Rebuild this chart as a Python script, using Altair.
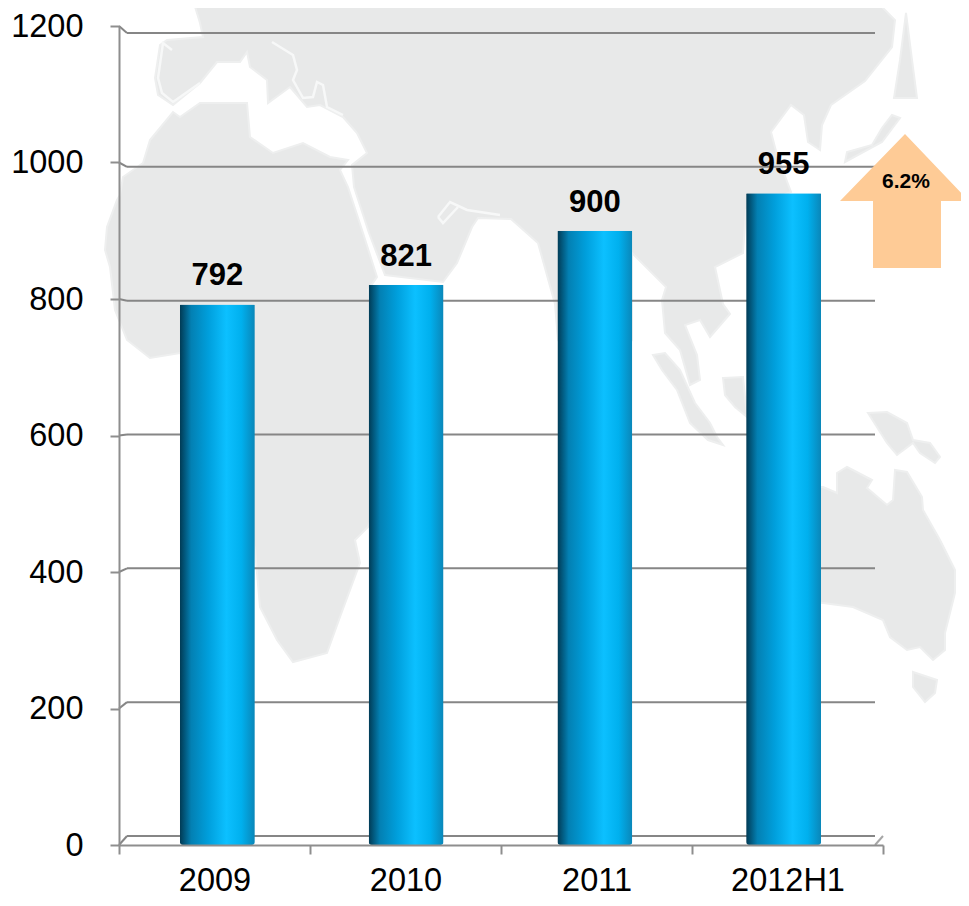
import altair as alt
import pandas as pd

FONT = "Liberation Sans"
GREY = "#8e8e8e"

categories = ["2009", "2010", "2011", "2012H1"]
values = [792, 821, 900, 955]
y_ticks = [0, 200, 400, 600, 800, 1000, 1200]
growth_label = "6.2%"

# Background map and arrow outlines (page pixels)
eurasia = [(193,0),(200,23),(203,37),(167,40),(160,45),(155,78),(158,95),(173,105),(200,83),(217,62),(240,62),(247,52),(250,67),(267,80),(268,103),(290,87),(307,107),(320,105),(343,117),(357,133),(367,153),(352,165),(354,187),(369,233),(385,275),(443,282),(457,263),(472,227),(478,218),(511,219),(538,243),(555,304),(558,340),(595,400),(632,340),(632,253),(666,287),(662,300),(665,333),(680,350),(690,385),(700,380),(697,355),(685,325),(700,320),(710,337),(730,314),(723,304),(715,267),(743,253),(746,210),(791,192),(777,155),(771,132),(791,105),(804,115),(808,142),(820,150),(822,125),(831,105),(865,81),(892,47),(895,20),(875,0)]
africa = [(180,117),(200,103),(247,103),(250,137),(273,153),(303,143),(330,157),(348,160),(340,170),(348,187),(363,233),(377,277),(368,290),(385,400),(385,480),(368,527),(355,540),(360,563),(340,617),(327,653),(293,662),(277,640),(260,607),(255,550),(245,500),(230,375),(180,353),(150,358),(127,340),(115,310),(110,267),(105,250),(107,227),(117,200),(120,195),(123,177),(143,163),(150,140),(173,112)]
sakhalin = [(906,13),(912,60),(917,98),(894,98),(900,60)]
japan = [(892,115),(900,118),(882,142),(845,162),(847,152),(872,145),(882,128)]
sumatra = [(653,355),(665,353),(680,370),(695,403),(710,423),(717,437),(723,445),(708,440),(690,423),(677,390),(662,370)]
borneo = [(723,378),(743,377),(747,417),(735,407),(725,395)]
new_guinea = [(868,413),(887,412),(907,423),(913,440),(930,443),(940,457),(935,463),(920,453),(913,443),(897,455),(887,443)]
australia = [(823,487),(837,493),(837,473),(847,467),(872,480),(867,488),(887,505),(893,500),(895,470),(907,472),(922,497),(923,510),(940,540),(955,570),(955,593),(945,633),(945,650),(933,660),(920,647),(907,650),(890,637),(883,620),(853,607),(823,603),(800,600),(800,487)]
tasmania = [(913,672),(937,680),(935,693),(925,702),(913,687)]
arrow = [(905,134),(969,201),(941,201),(941,268),(873,268),(873,201),(840,201)]

white_lines = [
    [(272,42),(293,55),(297,70),(293,80),(303,98),(313,97),(317,82),(323,85),(327,107),(343,115)],
    [(438,217),(450,202),(467,210),(500,215)],
    [(438,217),(443,223),(458,207)],
    [(172,50),(163,43),(158,78),(162,93),(173,102),(200,83)],
]


def feature(points):
    return {"type": "Feature",
            "geometry": {"type": "Polygon",
                         "coordinates": [[list(p) for p in points] + [list(points[0])]]}}


def line_feature(points):
    return {"type": "Feature",
            "geometry": {"type": "LineString", "coordinates": [list(p) for p in points]}}


projection = dict(type="identity", scale=1, translate=[-119, -26])
map_shapes = [eurasia, africa, sakhalin, japan, sumatra, borneo, new_guinea, australia, tasmania]

map_layer = alt.Chart(alt.Data(values=[feature(s) for s in map_shapes])).mark_geoshape(
    fill="#e8e9e9", stroke="#eeefef", strokeWidth=2, clip=False).project(**projection)
map_lines = alt.Chart(alt.Data(values=[line_feature(s) for s in white_lines])).mark_geoshape(
    fill=None, filled=False, stroke="#f7f8f8", strokeWidth=2.5, clip=False).project(**projection)
arrow_layer = alt.Chart(alt.Data(values=[feature(arrow)])).mark_geoshape(
    fill="#fecb96", stroke=None, clip=False).project(**projection)

df = pd.DataFrame({"cat": categories, "value": values})
ticks = pd.DataFrame({"v": y_ticks})

y_scale = alt.Scale(domain=[0, 1200], range=[819, 0], nice=False)
y_enc = alt.Y("value:Q", scale=y_scale, title=None,
              axis=alt.Axis(values=y_ticks, format="d", grid=False, tickSize=9, tickWidth=2, tickColor=GREY,
                            domainColor=GREY, domainWidth=2, labelFont=FONT, labelFontSize=32.5,
                            labelColor="#000000", labelPadding=27, zindex=1))
x_axis_scale = alt.Scale(domain=categories, range=[0, 764], paddingInner=0, paddingOuter=0)
x_bar_scale = alt.Scale(domain=categories, range=[4, 759], paddingInner=0, paddingOuter=0)

# x axis carrier
base = alt.Chart(df).mark_point(opacity=0).encode(
    x=alt.X("cat:N", scale=x_axis_scale, sort=categories, title=None,
            axis=alt.Axis(labelAngle=0, tickBand="extent", tickSize=9, tickWidth=2, tickColor=GREY,
                          domainColor=GREY, domainWidth=2, labelFont=FONT, labelFontSize=32.5,
                          labelColor="#000000", labelPadding=10, zindex=1)),
    y=y_enc,
)

back = "datum.v * 803 / 819 + 13.2"
grid = alt.Chart(ticks).transform_calculate(back=back).mark_rule(
    color="#868686", strokeWidth=2).encode(
    x=alt.value(8), x2=alt.value(756), y=alt.Y("back:Q", scale=y_scale))
left_links = alt.Chart(ticks).transform_calculate(back=back).mark_rule(
    color="#868686", strokeWidth=2).encode(
    x=alt.value(0), x2=alt.value(8), y=alt.Y("v:Q", scale=y_scale), y2="back:Q")
right_link = alt.Chart(pd.DataFrame({"v": [0]})).transform_calculate(back=back).mark_rule(
    color="#a6a6a6", strokeWidth=2).encode(
    x=alt.value(756), x2=alt.value(764), y=alt.Y("v:Q", scale=y_scale), y2="back:Q")

gradient = alt.Gradient(
    gradient="linear", x1=0, x2=1, y1=0, y2=0,
    stops=[alt.GradientStop(color="#013a54", offset=0),
           alt.GradientStop(color="#0380b3", offset=0.15),
           alt.GradientStop(color="#009fdc", offset=0.38),
           alt.GradientStop(color="#0cc0ff", offset=0.62),
           alt.GradientStop(color="#00b0ee", offset=0.82),
           alt.GradientStop(color="#0a86b8", offset=1)])

bars = alt.Chart(df).mark_bar(size=75, fill=gradient, cornerRadiusBottomLeft=3,
                              cornerRadiusBottomRight=3, cornerRadiusTopLeft=1,
                              cornerRadiusTopRight=1).encode(
    x=alt.X("cat:N", scale=x_bar_scale, sort=categories, axis=None),
    y=alt.Y("value:Q", scale=y_scale),
    y2=alt.value(815),
)
labels = alt.Chart(df).mark_text(font=FONT, fontSize=31, fontWeight="bold", color="#000000",
                                 baseline="middle", dy=-28).encode(
    x=alt.X("cat:N", scale=x_bar_scale, sort=categories, axis=None),
    y=alt.Y("value:Q", scale=y_scale),
    text="value:Q",
)
growth = alt.Chart(pd.DataFrame({"t": [growth_label]})).mark_text(
    font=FONT, fontSize=21, fontWeight="bold", color="#000000", baseline="middle").encode(
    x=alt.value(787), y=alt.value(156), text="t:N")

chart = alt.layer(map_layer, map_lines, base, grid, left_links, right_link, bars, labels,
                  arrow_layer, growth).resolve_scale(x="independent").properties(
    width=764, height=819,
    autosize=alt.AutoSizeParams(type="none"),
    padding={"left": 111, "top": 18, "right": 78, "bottom": 53},
).configure_view(stroke=None)

chart.save("out.html", embed_options={"renderer": "svg", "actions": False})
